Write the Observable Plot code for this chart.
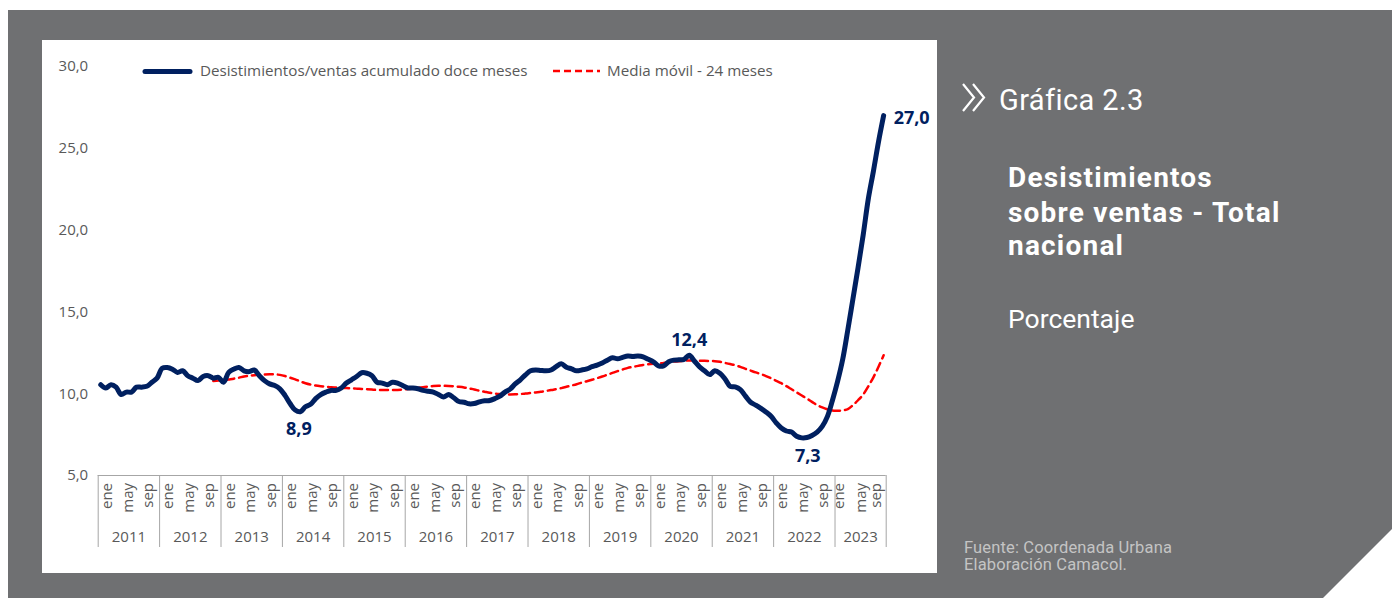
<!DOCTYPE html>
<html>
<head>
<meta charset="utf-8">
<script src="https://cdn.jsdelivr.net/npm/d3@7"></script>
<script src="https://cdn.jsdelivr.net/npm/@observablehq/plot@0.6"></script>
<style>
html, body { margin: 0; padding: 0; background: #ffffff; }
#page { position: relative; width: 1392px; height: 598px; overflow: hidden; }
#panel { position: absolute; left: 8px; top: 10px; width: 1384px; height: 588px; background: #6f7072;
  clip-path: polygon(0 0, 100% 0, 1384px 519px, 1315px 588px, 0 588px); }
#chart { position: absolute; left: 42px; top: 40px; width: 895px; height: 533px; background: #ffffff; }
#overlay { position: absolute; left: 0; top: 0; }
</style>
</head>
<body>
<div id="page">
  <div id="panel"></div>
  <div id="chart"></div>
  <svg id="overlay" width="1392" height="598">
    <g id="legend">
      <line x1="145" y1="71.5" x2="190" y2="71.5" stroke="#002060" stroke-width="5" stroke-linecap="round"></line>
      <text x="200" y="76" font-family="Open Sans" font-size="15.2" fill="#595959">Desistimientos/ventas acumulado doce meses</text>
      <line x1="553" y1="71" x2="600" y2="71" stroke="#ff0000" stroke-width="2.5" stroke-dasharray="7,4"></line>
      <text x="607" y="76" font-family="Open Sans" font-size="15.2" fill="#595959">Media móvil - 24 meses</text>
    </g>
    <g id="side" font-family="Roboto" fill="#ffffff">
      <polyline points="963,84 974,97.5 963,111" fill="none" stroke="#ffffff" stroke-width="2.2"></polyline>
      <polyline points="973,84 984,97.5 973,111" fill="none" stroke="#ffffff" stroke-width="2.2"></polyline>
      <text x="999" y="110" font-size="29" letter-spacing="0.4">Gráfica 2.3</text>
      <text font-size="28" font-weight="bold" letter-spacing="1.2">
        <tspan x="1008" y="186.7">Desistimientos</tspan>
        <tspan x="1008" y="221.7">sobre ventas - Total</tspan>
        <tspan x="1008" y="255">nacional</tspan>
      </text>
      <text x="1008" y="327.7" font-size="26.5">Porcentaje</text>
      <text font-size="16.5" fill="#c4c4c4" letter-spacing="0.15">
        <tspan x="964" y="552.7">Fuente: Coordenada Urbana</tspan>
        <tspan x="964" y="570">Elaboración Camacol.</tspan>
      </text>
    </g>
  </svg>
</div>
<script>
// ---- Data ----
const years = [2011, 2012, 2013, 2014, 2015, 2016, 2017, 2018, 2019, 2020, 2021, 2022, 2023];
const monthLabels = ["ene", "may", "sep"];
const monthLabelOffsets = [0, 4, 8];
const yTicks = [5, 10, 15, 20, 25, 30];

// Desistimientos/ventas acumulado doce meses (ene 2011 - oct 2023)
const ratio = [
  10.55, 10.35, 10.55, 10.4, 9.95, 10.1, 10.1, 10.4, 10.4, 10.45, 10.7, 10.95,
  11.55, 11.6, 11.5, 11.3, 11.4, 11.1, 10.95, 10.8, 11.05, 11.1, 10.95, 11.0,
  10.7, 11.3, 11.5, 11.6, 11.4, 11.35, 11.45, 11.1, 10.8, 10.6, 10.5, 10.3,
  9.9, 9.4, 9.0, 8.9, 9.2, 9.35, 9.7, 9.95, 10.1, 10.2, 10.2, 10.35,
  10.65, 10.85, 11.05, 11.28, 11.25, 11.1, 10.7, 10.65, 10.55, 10.7, 10.65, 10.5,
  10.35, 10.35, 10.3, 10.2, 10.15, 10.1, 9.95, 9.8, 9.95, 9.75, 9.52, 9.48,
  9.38, 9.4, 9.5, 9.57, 9.58, 9.7, 9.85, 10.1, 10.28, 10.6, 10.85, 11.15,
  11.4, 11.45, 11.42, 11.4, 11.45, 11.65, 11.83, 11.62, 11.52, 11.4, 11.45, 11.52,
  11.65, 11.75, 11.88, 12.05, 12.2, 12.13, 12.22, 12.3, 12.28, 12.3, 12.25, 12.1,
  11.95, 11.7, 11.7, 11.95, 12.05, 12.07, 12.1, 12.35, 12.0, 11.65, 11.4, 11.17,
  11.4, 11.25, 10.9, 10.45, 10.42, 10.25, 9.85, 9.48, 9.3, 9.1, 8.88, 8.62,
  8.22, 7.9, 7.72, 7.66, 7.4, 7.3, 7.32, 7.45, 7.65, 8.0, 8.6, 9.6,
  10.75, 12.1, 13.9, 15.8, 17.7, 19.7, 21.9, 23.6, 25.4, 27.0
];

// Media móvil - 24 meses
const movingAvg = [
  null, null, null, null, null, null, null, null, null, null, null, null,
  null, null, null, null, null, null, null, null, null, null, 10.78, 10.8,
  10.82, 10.87, 10.92, 10.98, 11.05, 11.1, 11.13, 11.16, 11.18, 11.19, 11.18, 11.15,
  11.08, 10.98, 10.88, 10.75, 10.64, 10.56, 10.5, 10.46, 10.43, 10.4, 10.38, 10.36,
  10.35, 10.33, 10.31, 10.29, 10.27, 10.25, 10.23, 10.22, 10.22, 10.22, 10.23, 10.25,
  10.28, 10.32, 10.36, 10.4, 10.44, 10.47, 10.48, 10.48, 10.47, 10.45, 10.42, 10.38,
  10.32, 10.26, 10.18, 10.12, 10.06, 10.01, 9.98, 9.96, 9.95, 9.96, 9.98, 10.01,
  10.04, 10.08, 10.12, 10.17, 10.22, 10.28, 10.34, 10.42, 10.5, 10.58, 10.68, 10.76,
  10.85, 10.95, 11.05, 11.16, 11.27, 11.38, 11.48, 11.58, 11.64, 11.7, 11.76, 11.8,
  11.83, 11.85, 11.88, 11.93, 11.96, 11.99, 12.01, 12.03, 12.03, 12.02, 12.01, 12.0,
  11.99, 11.95, 11.88, 11.81, 11.74, 11.64, 11.52, 11.41, 11.3, 11.2, 11.08, 10.94,
  10.79, 10.64, 10.46, 10.27, 10.08, 9.89, 9.7, 9.5, 9.3, 9.16, 9.05, 8.97,
  8.96, 8.98, 9.06, 9.3, 9.6, 9.95, 10.45, 11.0, 11.65, 12.35
];

// Highlighted values (month index, text)
const highlightIdx = [39, 115, 137, 153];
const highlightText = ["8,9", "12,4", "7,3", "27,0"];

// ---- Derived tables ----
const n = ratio.length;
const idx = d3.range(n);
const yearEdges = years.map((y, k) => k * 12 - 0.5).concat([n - 0.5]);
const yearTicks = years.map((y, k) => ({ year: String(y), c: (k * 12 - 0.5 + Math.min((k + 1) * 12, n) - 0.5) / 2 }));
// the partial last year has its labels squeezed, as in the original
const lastYearDx = [2, 3.5, -2];
const monthTicks = [];
years.forEach((y, k) => monthLabelOffsets.forEach((o, j) => {
  const i = k * 12 + o;
  const last = k === years.length - 1;
  if (i < n) monthTicks.push({ i, label: monthLabels[j], dx: last ? lastYearDx[j] : 6.5 });
}));
const labelStyle = [
  { dx: -1.5, dy: 18, anchor: "middle" },
  { dx: 0, dy: -15, anchor: "middle" },
  { dx: 6, dy: 18.5, anchor: "middle" },
  { dx: 10, dy: 3, anchor: "start" }
];
const labels = highlightIdx.map((i, k) => ({ i, v: ratio[i], text: highlightText[k], ...labelStyle[k] }));

const axisColor = "#a6a6a6";
const textColor = "#595959";

const chart = Plot.plot({
  width: 895,
  height: 533,
  marginLeft: 55.7,
  marginRight: 51.3,
  marginTop: 26,
  marginBottom: 98,
  style: { fontFamily: "Open Sans", fontSize: "15px", color: textColor, background: "transparent", overflow: "visible" },
  x: { domain: [-0.5, n - 0.5], axis: null },
  y: { domain: [5, 30], ticks: yTicks, tickFormat: d => d.toFixed(1).replace(".", ","), tickSize: 0, tickPadding: 10, label: null },
  marks: [
    Plot.ruleY([5], { stroke: axisColor, strokeWidth: 1 }),
    Plot.ruleX(yearEdges, { x: d => d, y1: 5, y2: 5, insetBottom: -72, stroke: axisColor, strokeWidth: 1 }),
    ...[6.5, ...lastYearDx].map(dxv => Plot.text(monthTicks.filter(t => t.dx === dxv), { x: "i", frameAnchor: "bottom", text: "label", rotate: -90, textAnchor: "end", lineAnchor: "middle", dx: dxv, dy: 7.5, fill: textColor, fontSize: 15 })),
    Plot.text(yearTicks, { x: "c", frameAnchor: "bottom", text: "year", lineAnchor: "middle", dy: 62, fill: textColor, fontSize: 15 }),
    Plot.line(idx, { x: i => i, y: i => movingAvg[i], stroke: "#ff0000", strokeWidth: 2.5, strokeDasharray: "8,5", curve: "catmull-rom" }),
    Plot.line(idx, { x: i => i, y: i => ratio[i], stroke: "#002060", strokeWidth: 5, strokeLinejoin: "round", strokeLinecap: "round", curve: "catmull-rom" }),
    ...labels.map(l => Plot.text([l], { x: "i", y: "v", text: "text", dx: l.dx, dy: l.dy, textAnchor: l.anchor, lineAnchor: "middle", fill: "#002060", fontSize: 18, fontWeight: "bold" }))
  ]
});
document.getElementById("chart").appendChild(chart);
</script>
</body>
</html>
